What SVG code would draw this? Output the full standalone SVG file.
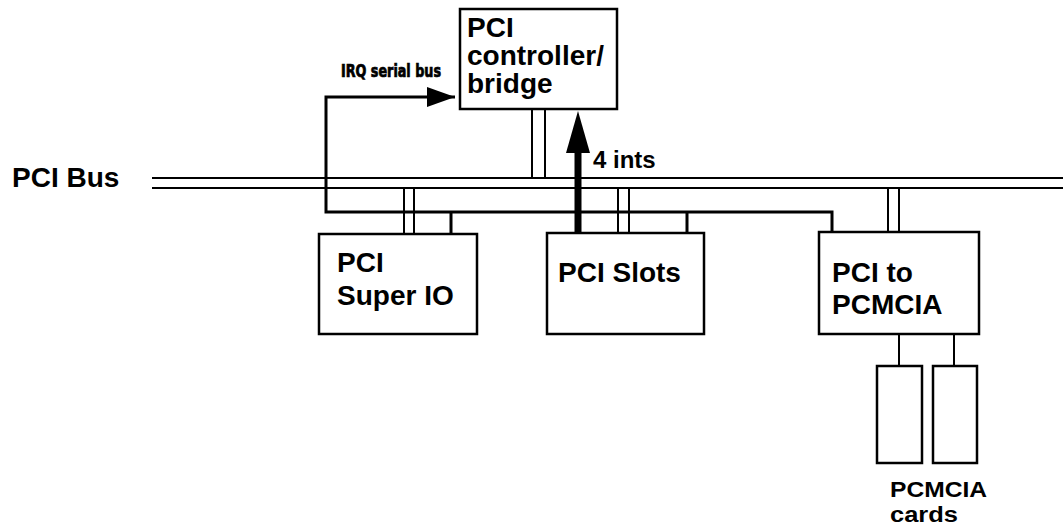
<svg xmlns="http://www.w3.org/2000/svg" width="1063" height="527" viewBox="0 0 1063 527">
<style>
.box{fill:#fff;stroke:#000;stroke-width:2.5}
.lbl{font-family:"Liberation Sans",Arial,sans-serif;font-weight:bold;font-size:28px;fill:#000}
.bus{stroke:#000;stroke-width:2;fill:none}
.irq{stroke:#000;stroke-width:3;fill:none}
.stub{stroke:#000;stroke-width:2;fill:none}
</style>
<defs>
<marker id="ah" markerUnits="userSpaceOnUse" markerWidth="30" markerHeight="22" refX="28" refY="10" orient="auto">
<path d="M0,0 L28,10 L0,20 Z" fill="#000"/>
</marker>
</defs>
<rect width="1063" height="527" fill="#fff"/>
<g id="connectors">
<path class="bus" d="M152,178 H1063 M152,188 H1063"/>
<path class="stub" d="M532,110 V178 M545,110 V178"/>
<path class="stub" d="M404,188 V234 M414,188 V234"/>
<path class="stub" d="M618,188 V233 M629,188 V233"/>
<path class="stub" d="M888,188 V232 M899,188 V232"/>
<path class="stub" d="M899,334 V366 M954,334 V366"/>
<path class="irq" d="M832,232 V212 H326 V97 H455" marker-end="url(#ah)"/>
<path class="irq" d="M451,212 V234 M687,212 V233"/>
<path d="M578,237 V150" stroke="#000" stroke-width="7" fill="none"/>
<polygon points="566,153 590,153 578,111" fill="#000"/>
<text x="593" y="168" class="lbl" style="font-size:24px">4 ints</text>
<text x="341" y="77" style="font-family:'DejaVu Sans Condensed','Liberation Sans Narrow','Liberation Sans',sans-serif;font-weight:bold;font-size:17px;stroke:#000;stroke-width:0.7" textLength="100" lengthAdjust="spacingAndGlyphs">IRQ serial bus</text>
</g>
<g id="pcibus">
<text x="12" y="187" class="lbl">PCI Bus</text>
</g>
<g id="controller">
<rect class="box" x="460" y="9" width="157" height="100"/>
<text class="lbl" x="467" y="37">PCI</text>
<text class="lbl" x="467" y="65">controller/</text>
<text class="lbl" x="467" y="93">bridge</text>
</g>
<g id="superio">
<rect class="box" x="319" y="234" width="158" height="100"/>
<text class="lbl" x="337" y="272">PCI</text>
<text class="lbl" x="337" y="305">Super IO</text>
</g>
<g id="slots">
<rect class="box" x="547" y="233" width="157" height="101"/>
<text class="lbl" x="558" y="282">PCI Slots</text>
</g>
<g id="pcmcia">
<rect class="box" x="819" y="232" width="160" height="102"/>
<text class="lbl" x="832" y="282">PCI to</text>
<text class="lbl" x="832" y="314">PCMCIA</text>
</g>
<g id="cards">
<rect class="box" x="877" y="366" width="45" height="97"/>
<rect class="box" x="933" y="366" width="44" height="97"/>
<text class="lbl" x="890" y="497" style="font-size:22px" textLength="97" lengthAdjust="spacingAndGlyphs">PCMCIA</text>
<text class="lbl" x="890" y="522" style="font-size:22px" textLength="68" lengthAdjust="spacingAndGlyphs">cards</text>
</g>
</svg>
